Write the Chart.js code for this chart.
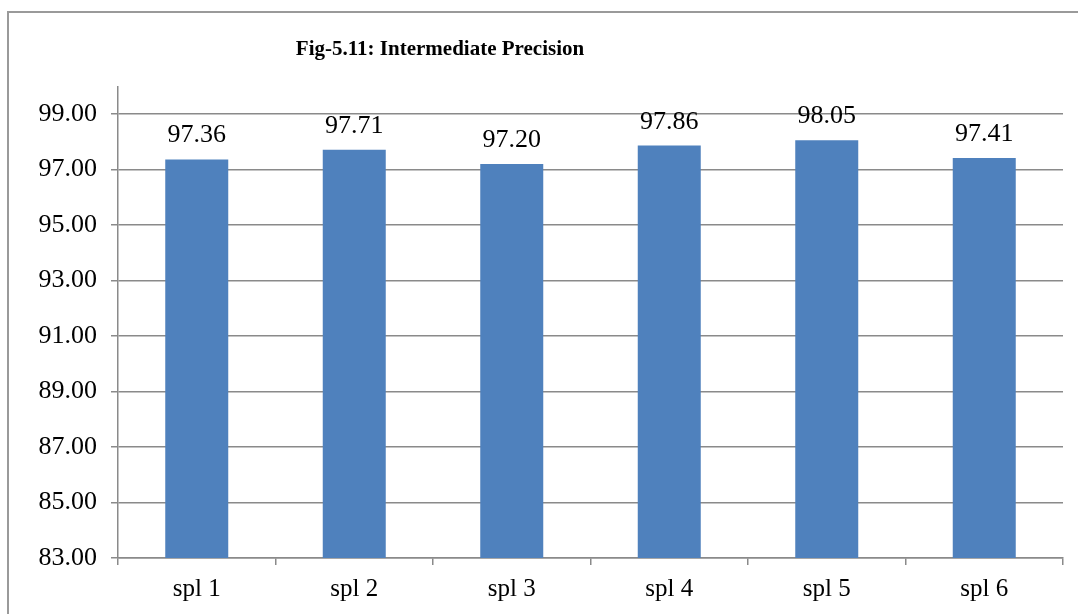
<!DOCTYPE html>
<html>
<head>
<meta charset="utf-8">
<script src="https://cdn.jsdelivr.net/npm/chart.js@4.4.0/dist/chart.umd.min.js"></script>
<style>
  html, body { margin: 0; padding: 0; background: #fff; }
  #wrap { width: 1078px; height: 614px; }
</style>
</head>
<body>
<div id="wrap"><canvas id="precisionChart"></canvas></div>
<script>
// Fig-5.11 data
const categories = ['spl 1', 'spl 2', 'spl 3', 'spl 4', 'spl 5', 'spl 6'];
const assayValues = [97.36, 97.71, 97.20, 97.86, 98.05, 97.41];
const yTickValues = [83, 85, 87, 89, 91, 93, 95, 97, 99];
const chartTitle = 'Fig-5.11: Intermediate Precision';

const SERIF = '"Liberation Serif", "Times New Roman", serif';
const GRID_GREY = '#8a8a8a';

// Outer frame (only top and left edges are visible in the picture)
const framePlugin = {
    id: 'frame',
    beforeDraw(chart) {
        const ctx = chart.ctx;
        ctx.save();
        ctx.strokeStyle = '#9a9a9a';
        ctx.lineWidth = 2;
        ctx.beginPath();
        ctx.moveTo(8, chart.height);
        ctx.lineTo(8, 12);
        ctx.lineTo(chart.width, 12);
        ctx.stroke();
        ctx.restore();
    },
    afterDraw(chart) {
        const ctx = chart.ctx;
        ctx.save();
        ctx.font = 'bold 21px ' + SERIF;
        ctx.fillStyle = '#000';
        ctx.textAlign = 'center';
        ctx.textBaseline = 'alphabetic';
        ctx.fillText(chartTitle, 440, 55);
        ctx.restore();
    }
};

// Value labels above each bar
const valueLabels = {
    id: 'valueLabels',
    afterDatasetsDraw(chart) {
        const ctx = chart.ctx;
        const meta = chart.getDatasetMeta(0);
        ctx.save();
        ctx.font = '26px ' + SERIF;
        ctx.fillStyle = '#000';
        ctx.textAlign = 'center';
        ctx.textBaseline = 'alphabetic';
        meta.data.forEach((bar, i) => {
            ctx.fillText(assayValues[i].toFixed(2), bar.x, bar.y - 17);
        });
        ctx.restore();
    }
};

const ctx = document.getElementById('precisionChart').getContext('2d');
new Chart(ctx, {
    type: 'bar',
    data: {
        labels: categories,
        datasets: [{
            data: assayValues,
            backgroundColor: '#4F81BD',
            borderWidth: 0,
            barPercentage: 0.4,
            categoryPercentage: 1.0
        }]
    },
    options: {
        responsive: true,
        maintainAspectRatio: false,
        animation: false,
        layout: { padding: { top: 87, right: 15, left: 0, bottom: 0 } },
        plugins: {
            legend: { display: false },
            tooltip: { enabled: false },
            title: { display: false }
        },
        scales: {
            x: {
                offset: true,
                grid: {
                    display: true,
                    offset: true,
                    drawOnChartArea: false,
                    drawTicks: true,
                    tickLength: 7,
                    color: GRID_GREY,
                    lineWidth: 1.5
                },
                border: { display: true, color: GRID_GREY, width: 1.5 },
                ticks: {
                    color: '#000',
                    font: { family: SERIF, size: 25 },
                    padding: 9
                },
                afterFit(scale) { scale.height = 56; }
            },
            y: {
                min: 83,
                max: 99.97,
                afterBuildTicks(scale) {
                    scale.ticks = yTickValues.map(v => ({ value: v }));
                },
                grid: {
                    color: GRID_GREY,
                    lineWidth: 1.5,
                    tickLength: 7
                },
                border: { display: true, color: GRID_GREY, width: 1.5 },
                ticks: {
                    color: '#000',
                    font: { family: SERIF, size: 26 },
                    padding: 14,
                    callback: v => Number(v).toFixed(2)
                },
                afterFit(scale) { scale.width = 118; }
            }
        }
    },
    plugins: [framePlugin, valueLabels]
});
</script>
</body>
</html>
